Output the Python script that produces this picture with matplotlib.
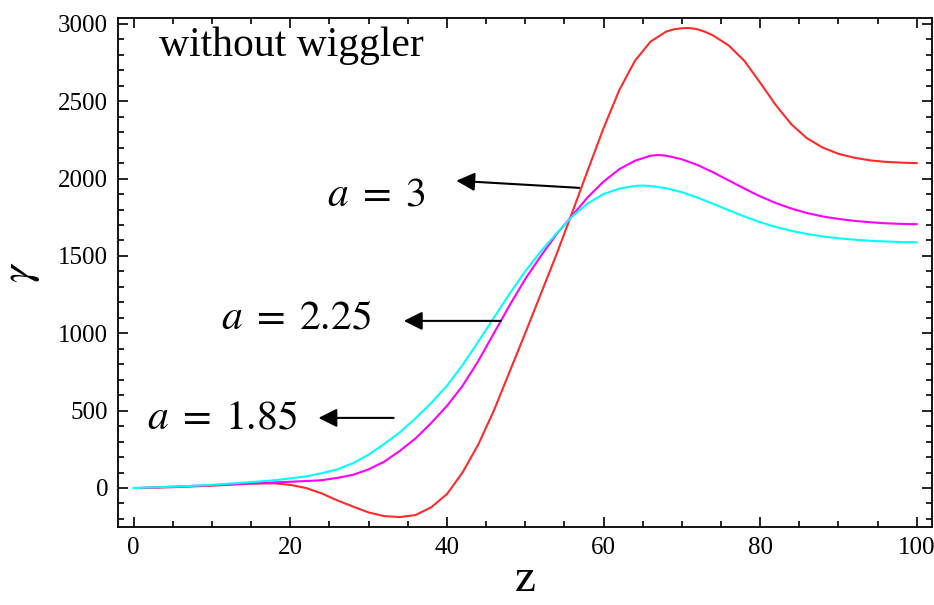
import numpy as np
import matplotlib
matplotlib.use("Agg")
import matplotlib.pyplot as plt
from matplotlib.ticker import MultipleLocator

plt.rcParams['font.family'] = ['Liberation Serif', 'DejaVu Serif']
plt.rcParams['mathtext.fontset'] = 'stix'

# Curvas (z, gamma)
z_red = [1, 5, 10, 15, 18, 20, 22, 24, 26, 28, 30, 32, 34, 36, 38, 40, 42, 44, 46, 48,
         50, 52, 54, 56, 58, 60, 62, 64, 66, 68, 69, 70, 71, 72, 73, 74, 76, 78, 80, 82, 84, 86,
         88, 90, 92, 94, 96, 98, 100]
g_red = [0, 5, 15, 28, 30, 20, 0, -35, -80, -120, -158, -182, -188, -175, -125, -40, 100,
         280, 500, 750, 1000, 1255, 1510, 1780, 2055, 2325, 2570, 2760, 2885, 2950, 2965, 2972,
         2973, 2965, 2948, 2925, 2860, 2760, 2620, 2475, 2350, 2260, 2200, 2160, 2135, 2118, 2108,
         2103, 2100]

z_mag = [1, 5, 10, 15, 20, 22, 24, 26, 28, 30, 32, 34, 36, 38, 40, 42, 44, 46, 48, 50,
         52, 54, 56, 58, 60, 62, 64, 66, 67, 68, 70, 72, 74, 76, 78, 80, 82, 84, 86, 88,
         90, 92, 94, 96, 98, 100]
g_mag = [0, 8, 18, 30, 40, 45, 50, 65, 85, 120, 170, 240, 320, 420, 530, 660, 820, 1000,
         1180, 1350, 1500, 1640, 1760, 1880, 1980, 2060, 2115, 2148, 2152, 2148, 2125, 2088,
         2040, 1988, 1935, 1885, 1842, 1806, 1777, 1755, 1739, 1727, 1718, 1711, 1707, 1705]

z_cyan = [0, 5, 10, 15, 18, 20, 22, 24, 26, 28, 30, 32, 34, 36, 38, 40, 42, 44, 46, 48,
          50, 52, 54, 56, 58, 60, 62, 64, 65, 66, 68, 70, 72, 74, 76, 78, 80, 82, 84, 86,
          88, 90, 92, 94, 96, 98, 100]
g_cyan = [0, 8, 20, 38, 50, 62, 75, 95, 120, 160, 215, 285, 360, 450, 550, 660, 795, 945,
          1100, 1255, 1400, 1530, 1645, 1755, 1840, 1900, 1935, 1952, 1955, 1952, 1938, 1912,
          1877, 1837, 1795, 1755, 1718, 1687, 1662, 1642, 1626, 1614, 1605, 1598, 1593, 1590,
          1588]

# Rotulos e setas: (texto, posicao do texto, ponta da seta, cauda da seta)
rotulos = [r'$a\;=\;3$', r'$a\;=\;2.25$', r'$a\;=\;1.85$']
texto_xy = [(30.9, 1895), (20.8, 1100), (11.3, 453)]
seta_ponta = [(41.2, 1986), (34.5, 1080), (23.6, 453)]
seta_cauda = [(56.9, 1940), (46.9, 1080), (33.2, 453)]

fig = plt.figure(figsize=(9.34, 6.05), dpi=100)
ax = fig.add_axes([0.1263, 0.129, 0.872, 0.841])

ax.plot(z_red, g_red, color='#ff2a2a', lw=1.5)
ax.plot(z_mag, g_mag, color='#ff00ff', lw=1.5)
ax.plot(z_cyan, g_cyan, color='#00ffff', lw=1.5)

for txt, xy, ponta, cauda in zip(rotulos, texto_xy, seta_ponta, seta_cauda):
    ax.text(xy[0], xy[1], txt, fontsize=30, ha='center', va='center')
    ax.annotate('', xy=ponta, xytext=cauda,
                arrowprops=dict(arrowstyle='-|>', color='black', lw=1.5,
                                mutation_scale=28, shrinkA=0, shrinkB=0))

ax.text(3.3, 2860, 'without wiggler', fontsize=30, ha='left', va='center')

ax.set_xlim(-2, 102)
ax.set_ylim(-252, 3037)
ax.xaxis.set_major_locator(MultipleLocator(20))
ax.xaxis.set_minor_locator(MultipleLocator(5))
ax.yaxis.set_major_locator(MultipleLocator(500))
ax.yaxis.set_minor_locator(MultipleLocator(100))
ax.tick_params(which='both', direction='in', top=True, right=True, labelsize=18, width=1.2)
ax.tick_params(which='major', length=7, pad=7)
ax.tick_params(which='minor', length=4.5)
for s in ax.spines.values():
    s.set_linewidth(1.3)

ax.set_xlabel('z', fontsize=34, labelpad=0)
ax.set_ylabel(r'$\gamma$', fontsize=32, labelpad=12)

fig.savefig('out.png', dpi=100)
